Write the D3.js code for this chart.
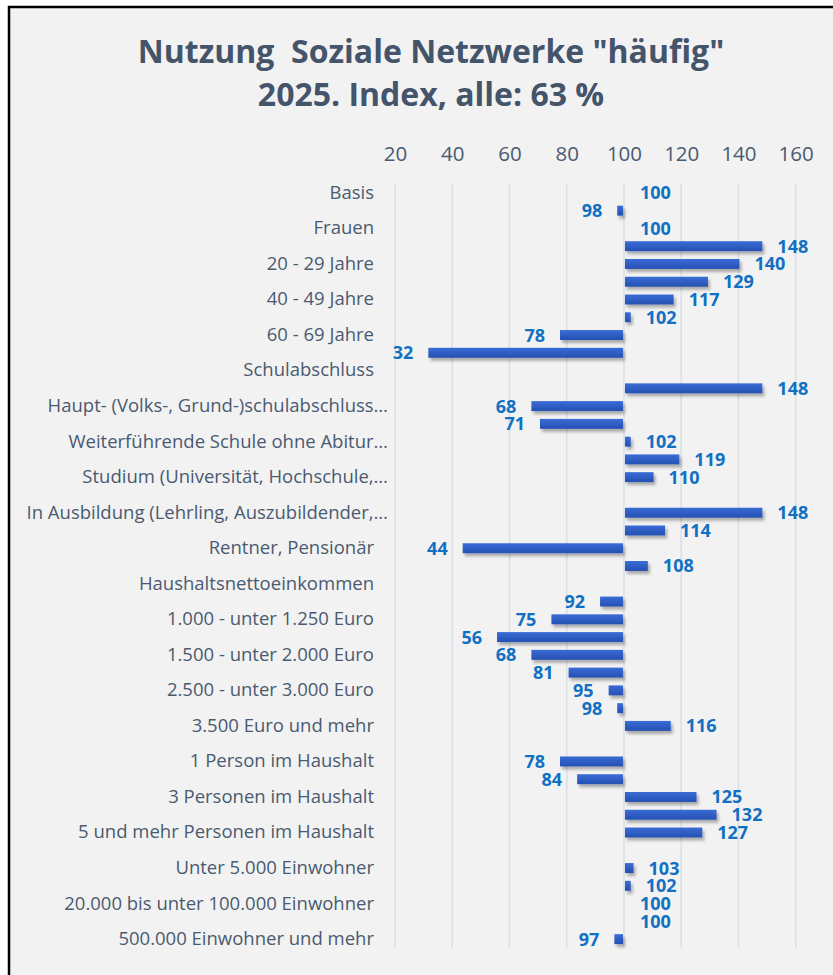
<!DOCTYPE html>
<html>
<head>
<meta charset="utf-8">
<script src="https://d3js.org/d3.v7.min.js"></script>
<style>
    body { margin: 0; background: #ffffff; }
    svg { display: block; }
</style>
</head>
<body>
<div id="chart"></div>
<script>
// rows of the chart, top to bottom (null = group header without bar)
const categories = [
    "Basis", "Männer", "Frauen",
    "14 - 19 Jahre", "20 - 29 Jahre", "30 - 39 Jahre", "40 - 49 Jahre",
    "50 - 59 Jahre", "60 - 69 Jahre", "70 Jahre und älter",
    "Schulabschluss", "Noch Schüler",
    "Haupt- (Volks-, Grund-)schulabschluss…", "Hauptschulabschluss mit Lehre",
    "Weiterführende Schule ohne Abitur…", "Abitur, Hochschulreife",
    "Studium (Universität, Hochschule,…",
    "Berufstätigkeit", "In Ausbildung (Lehrling, Auszubildender,…",
    "Berufstätig", "Rentner, Pensionär", "Nicht berufstätig",
    "Haushaltsnettoeinkommen", "unter 1.000 Euro", "1.000 - unter 1.250 Euro",
    "1.250 - unter 1.500 Euro", "1.500 - unter 2.000 Euro", "2.000 - unter 2.500 Euro",
    "2.500 - unter 3.000 Euro", "3.000 - unter 3.500 Euro", "3.500 Euro und mehr",
    "Haushaltsgröße", "1 Person im Haushalt", "2 Personen im Haushalt",
    "3 Personen im Haushalt", "4 Personen im Haushalt", "5 und mehr Personen im Haushalt",
    "Ortsgröße", "Unter 5.000 Einwohner", "5.000 bis unter 20.000 Einwohner",
    "20.000 bis unter 100.000 Einwohner", "100.000 bis unter 500.000 Einwohner",
    "500.000 Einwohner und mehr"
];
const values = [
    100, 98, 100,
    148, 140, 129, 117, 102, 78, 32,
    null, 148, 68, 71, 102, 119, 110,
    null, 148, 114, 44, 108,
    null, 92, 75, 56, 68, 81, 95, 98, 116,
    null, 78, 84, 125, 132, 127,
    null, 103, 102, 100, 100, 97
];
const xTicks = [20, 40, 60, 80, 100, 120, 140, 160];
const titleLines = ["Nutzung  Soziale Netzwerke \"häufig\"", "2025. Index, alle: 63 %"];
const baseValue = 100;

const width = 833, height = 975;
const plot = {left: 395, right: 795.7, top: 184, bottom: 948};

const rows = categories.map((c, i) => ({id: i, name: c, value: values[i]}));

const svg = d3.select("#chart").append("svg")
    .attr("width", width)
    .attr("height", height);

const defs = svg.append("defs");
const grad = defs.append("linearGradient")
    .attr("id", "barGrad")
    .attr("x1", 0).attr("y1", 0).attr("x2", 0).attr("y2", 1);
grad.append("stop").attr("offset", "0%").attr("stop-color", "#3a6cd6");
grad.append("stop").attr("offset", "100%").attr("stop-color", "#2550b2");

const shadow = defs.append("filter")
    .attr("id", "shadow")
    .attr("x", "-20%").attr("y", "-50%")
    .attr("width", "140%").attr("height", "220%");
shadow.append("feDropShadow")
    .attr("dx", 2).attr("dy", 3)
    .attr("stdDeviation", 1.8)
    .attr("flood-color", "#000")
    .attr("flood-opacity", 0.3);

// chart area with the frame
svg.append("rect")
    .attr("x", 9).attr("y", 7)
    .attr("width", 900).attr("height", 1000)
    .attr("fill", "#f2f2f2")
    .attr("stroke", "#000")
    .attr("stroke-width", 2.5);

// title
svg.append("g")
    .selectAll("text")
    .data(titleLines)
    .enter()
    .append("text")
    .attr("x", 431)
    .attr("y", (d, i) => 63 + i * 43)
    .attr("text-anchor", "middle")
    .attr("style", "font-family: 'Open Sans', sans-serif; font-size: 32px; font-weight: bold; white-space: pre;")
    .attr("fill", "#44546a")
    .text(d => d);

const x = d3.scaleLinear()
    .domain([20, 160])
    .range([plot.left, plot.right]);

const y = d3.scaleBand()
    .domain(rows.map(d => d.id))
    .range([plot.top, plot.bottom])
    .paddingInner(0.44)
    .paddingOuter(0.22);

// vertical grid lines
svg.append("g")
    .selectAll("line")
    .data(xTicks)
    .enter()
    .append("line")
    .attr("x1", d => x(d)).attr("x2", d => x(d))
    .attr("y1", plot.top).attr("y2", plot.bottom)
    .attr("stroke", "#d9dee7")
    .attr("stroke-width", 1.5);

// x axis on top
const xAxis = svg.append("g")
    .attr("transform", "translate(0," + plot.top + ")")
    .call(d3.axisTop(x).tickValues(xTicks).tickSize(0).tickPadding(23));
xAxis.select(".domain").remove();
xAxis.selectAll("text")
    .attr("style", "font-family: 'Open Sans', sans-serif; font-size: 20.5px;")
    .attr("fill", "#4a5a70");

// category axis, Excel shows only every second label
const yAxis = svg.append("g")
    .attr("transform", "translate(" + plot.left + ",0)")
    .call(d3.axisLeft(y)
        .tickValues(rows.filter(d => d.id % 2 === 0).map(d => d.id))
        .tickFormat(i => categories[i])
        .tickSize(0)
        .tickPadding(21));
yAxis.select(".domain").remove();
yAxis.selectAll("text")
    .attr("style", "font-family: 'Open Sans', sans-serif; font-size: 18.5px;")
    .attr("fill", "#4a5a70")
    .attr("dx", i => categories[i].endsWith("…") ? 14 : 0);

const barRows = rows.filter(d => d.value !== null);

// bars grow from the base value 100
svg.append("g")
    .attr("filter", "url(#shadow)")
    .selectAll("rect")
    .data(barRows)
    .enter()
    .append("rect")
    .attr("x", d => x(Math.min(d.value, baseValue)) + (d.value >= baseValue ? 1 : -1))
    .attr("y", d => y(d.id))
    .attr("width", d => Math.abs(x(d.value) - x(baseValue)))
    .attr("height", y.bandwidth())
    .attr("fill", "url(#barGrad)");

// data labels at the outer end of each bar
svg.append("g")
    .selectAll("text")
    .data(barRows)
    .enter()
    .append("text")
    .attr("x", d => d.value >= baseValue ? x(d.value) + 16 : x(d.value) - 16)
    .attr("y", d => y(d.id) + y.bandwidth() / 2)
    .attr("dy", "0.36em")
    .attr("text-anchor", d => d.value >= baseValue ? "start" : "end")
    .attr("style", "font-family: 'Open Sans', sans-serif; font-size: 18px; font-weight: bold;")
    .attr("fill", "#1170c2")
    .text(d => d.value);
</script>
</body>
</html>
